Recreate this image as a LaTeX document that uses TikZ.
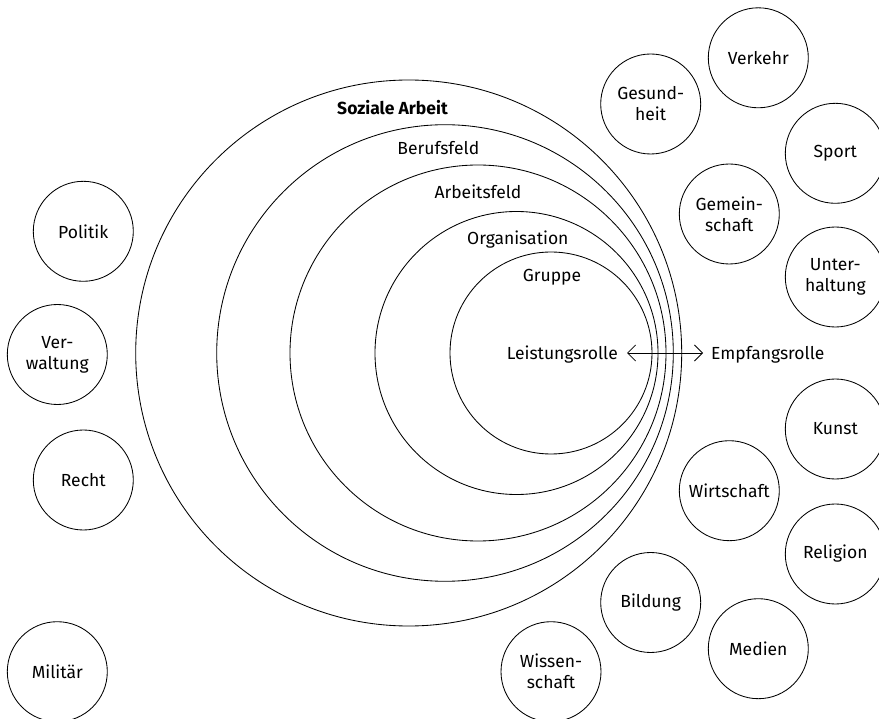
\documentclass[tikz,border=0pt]{standalone}
\usepackage{fontspec}
\setmainfont{Fira Sans}
\usetikzlibrary{arrows.meta}
\begin{document}
\begin{tikzpicture}[x=1pt,y=-1pt,
  every node/.style={font=\fontsize{17.5}{21}\selectfont},
  ring/.style={circle, draw, line width=0.85pt, inner sep=0pt, minimum size=#1},
  sys/.style={circle, draw, line width=0.85pt, inner sep=0pt, minimum size=100pt, align=center},
  ringlabel/.style={anchor=base, inner sep=0pt},
  rolle/.style={text height=12.6pt, text depth=0pt, inner ysep=0pt},
  exchange/.style={line width=0.85pt, {Straight Barb[length=8pt,width=16pt]}-{Straight Barb[length=8pt,width=16pt]}}
]
\useasboundingbox (0,0) rectangle (879,719);

% nested fields, all touching on the right
\node[ring=546pt]   (sozial) at (408.7,353) {};
\node[ring=456.6pt] (beruf)  at (445,353) {};
\node[ring=376pt]   (arbeit) at (478,353) {};
\node[ring=283pt]   (orga)   at (516.5,353) {};
\node[ring=202pt]   (gruppe) at (551,353) {};

\node[ringlabel, font=\fontsize{17.5}{21}\selectfont\bfseries] (lsozial) at (392.5,115) {Soziale Arbeit};
\node[ringlabel] (lberuf)  at (438.3,155) {Berufsfeld};
\node[ringlabel] (larbeit) at (478,199) {Arbeitsfeld};
\node[ringlabel] (lorga)   at (517.8,244.3) {Organisation};
\node[ringlabel] (lgruppe) at (552,281.7) {Gruppe};

% roles
\node[rolle, anchor=east, inner xsep=9pt] (leistung) at (627,353) {Leistungsrolle};
\node[rolle, anchor=west, inner xsep=8pt] (empfang)  at (703,353) {Empfangsrolle};
\draw[exchange] (leistung.east) -- (empfang.west);

% function systems, left side
\node[sys] (politik)   at (83.3,231.3) {Politik};
\node[sys] (verwalt)   at (57.3,354.5) {Ver-\\waltung};
\node[sys] (recht)     at (83.3,480) {Recht};
\node[sys] (militaer)  at (57.3,671.7) {Militär};

% function systems, right side
\node[sys] (gesund)    at (650.7,104) {Gesund-\\heit};
\node[sys] (verkehr)   at (758.3,57.8) {Verkehr};
\node[sys] (sport)     at (835.3,153.3) {Sport};
\node[sys] (gemein)    at (729.3,214) {Gemein-\\schaft};
\node[sys] (unterh)    at (835.3,277) {Unter-\\haltung};
\node[sys] (kunst)     at (835.3,429) {Kunst};
\node[sys] (wirtsch)   at (729.3,490.7) {Wirtschaft};
\node[sys] (religion)  at (835.3,554) {Religion};
\node[sys] (bildung)   at (650.7,602.5) {Bildung};
\node[sys] (medien)    at (758.3,648.7) {Medien};
\node[sys] (wissen)    at (551,671.7) {Wissen-\\schaft};
\end{tikzpicture}
\end{document}
